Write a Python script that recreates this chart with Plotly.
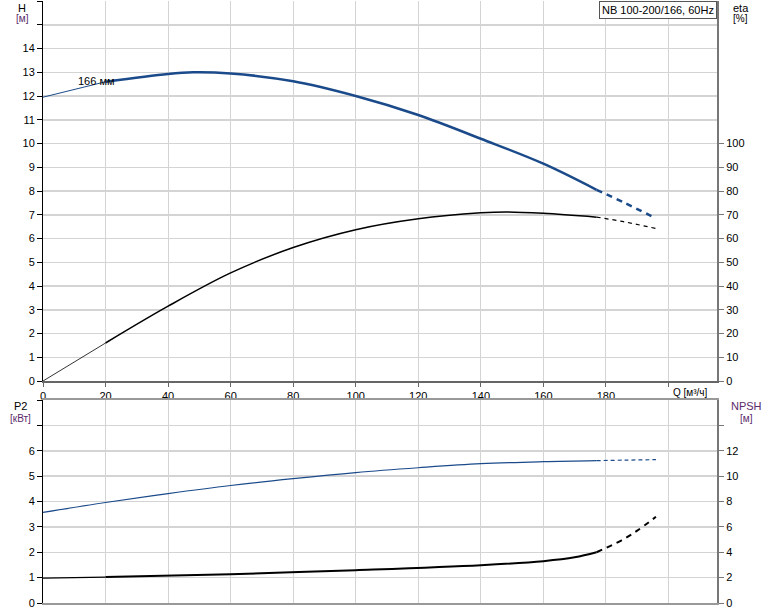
import plotly.graph_objects as go

# ---- data ----
q_head = [0, 20, 40, 48, 60, 80, 100, 120, 140, 160, 177]
h_head = [11.95, 12.6, 12.93, 13.0, 12.95, 12.62, 12.0, 11.2, 10.2, 9.15, 8.05]
q_head_ext = [177, 186, 196]
h_head_ext = [8.05, 7.5, 6.85]

q_eta = [0, 20, 40, 60, 80, 100, 120, 140, 148, 160, 177]
eta = [0, 16.0, 31.5, 45.5, 56.2, 63.7, 68.3, 70.8, 71.2, 70.6, 69.0]
q_eta_ext = [177, 186, 196]
eta_ext = [69.0, 67.0, 64.2]

q_p2 = [0, 20, 40, 60, 80, 100, 120, 140, 160, 177]
p2 = [3.57, 3.96, 4.31, 4.63, 4.9, 5.14, 5.33, 5.49, 5.57, 5.61]
q_p2_ext = [177, 186, 196]
p2_ext = [5.61, 5.63, 5.65]

q_npsh = [0, 20, 60, 100, 140, 160, 170, 177]
npsh = [1.96, 2.04, 2.27, 2.59, 2.98, 3.3, 3.6, 4.0]
q_npsh_ext = [177, 185, 190, 196]
npsh_ext = [4.0, 4.94, 5.7, 6.8]

x_ticks = list(range(0, 201, 20))
x_labels = [str(v) for v in range(0, 181, 20)] + [""]
h_ticks = list(range(0, 17))
h_labels = [str(v) for v in range(0, 15)] + ["", ""]
eta_ticks = list(range(0, 101, 10))
p2_ticks = list(range(0, 9))
p2_labels = [str(v) for v in range(0, 7)] + ["", ""]
npsh_ticks = list(range(0, 15, 2))
npsh_labels = [str(v) for v in range(0, 13, 2)] + [""]

BLUE = "#1a4a8a"
FONT = "Liberation Sans, Arial, sans-serif"

W, H = 774, 611
L, R, T, B = 43, 57, 1, 8
pw, ph = W - L - R, H - T - B


def px(x):
    return (x - L) / pw


def py(y):
    return 1 - (y - T) / ph


fig = go.Figure()

# head
fig.add_trace(go.Scatter(x=q_head[:2], y=h_head[:2], mode="lines",
                         line=dict(color=BLUE, width=1), xaxis="x", yaxis="y"))
fig.add_trace(go.Scatter(x=q_head[1:], y=h_head[1:], mode="lines",
                         line=dict(color=BLUE, width=2.5, shape="spline"), xaxis="x", yaxis="y"))
fig.add_trace(go.Scatter(x=q_head_ext, y=h_head_ext, mode="lines",
                         line=dict(color=BLUE, width=2.5, dash="6px,5px", shape="spline"), xaxis="x", yaxis="y"))
# eta
fig.add_trace(go.Scatter(x=q_eta[:2], y=eta[:2], mode="lines",
                         line=dict(color="black", width=0.8), xaxis="x", yaxis="y2"))
fig.add_trace(go.Scatter(x=q_eta[1:], y=eta[1:], mode="lines",
                         line=dict(color="black", width=1.5, shape="spline"), xaxis="x", yaxis="y2"))
fig.add_trace(go.Scatter(x=q_eta_ext, y=eta_ext, mode="lines",
                         line=dict(color="black", width=1.2, dash="4px,4px", shape="spline"), xaxis="x", yaxis="y2"))
# P2
fig.add_trace(go.Scatter(x=q_p2, y=p2, mode="lines",
                         line=dict(color=BLUE, width=1.2, shape="spline"), xaxis="x2", yaxis="y3"))
fig.add_trace(go.Scatter(x=q_p2_ext, y=p2_ext, mode="lines",
                         line=dict(color=BLUE, width=1.2, dash="4px,3px", shape="spline"), xaxis="x2", yaxis="y3"))
# NPSH
fig.add_trace(go.Scatter(x=q_npsh[:2], y=npsh[:2], mode="lines",
                         line=dict(color="black", width=1.2), xaxis="x2", yaxis="y4"))
fig.add_trace(go.Scatter(x=q_npsh[1:], y=npsh[1:], mode="lines",
                         line=dict(color="black", width=2, shape="spline"), xaxis="x2", yaxis="y4"))
fig.add_trace(go.Scatter(x=q_npsh_ext, y=npsh_ext, mode="lines",
                         line=dict(color="black", width=2, dash="6px,5px", shape="spline"), xaxis="x2", yaxis="y4"))

XMAX = (717 - 43.5) / 3.125
GRID = "#d4d4d4"
tickfont = dict(family=FONT, size=11, color="black")

top_dom = [py(381), py(1)]
bot_dom = [py(603), py(400)]

fig.update_layout(
    width=W, height=H, margin=dict(l=L, r=R, t=T, b=B, autoexpand=False),
    paper_bgcolor="white", plot_bgcolor="white", showlegend=False, hovermode=False,
    font=dict(family=FONT, size=11, color="black"),
    xaxis=dict(domain=[0, 1], range=[0, XMAX], tickvals=x_ticks, ticktext=x_labels,
               showgrid=True, gridcolor=GRID, gridwidth=1, zeroline=False, automargin=False,
               showline=True, linecolor="#666666", linewidth=1.5, ticks="outside",
               ticklen=4, tickcolor="#666666", tickfont=tickfont, anchor="y"),
    yaxis=dict(domain=top_dom, range=[0, 16], tickvals=h_ticks, ticktext=h_labels,
               showgrid=True, gridcolor=GRID, gridwidth=1.5, zeroline=False, automargin=False,
               showline=True, linecolor="black", linewidth=1, ticks="outside",
               ticklen=5, tickcolor="black", tickfont=tickfont, anchor="x"),
    yaxis2=dict(overlaying="y", side="right", range=[0, 160], tickvals=eta_ticks,
                showgrid=False, zeroline=False, showline=True, linecolor="#777777",
                linewidth=2, ticks="outside", ticklen=5, tickcolor="#777777", automargin=False,
                tickfont=tickfont, anchor="x"),
    xaxis2=dict(domain=[0, 1], range=[0, XMAX], tickvals=x_ticks, showticklabels=False,
                showgrid=True, gridcolor=GRID, gridwidth=1, zeroline=False, automargin=False,
                showline=True, linecolor="#999999", linewidth=2, mirror=True,
                ticks="", anchor="y3"),
    yaxis3=dict(domain=bot_dom, range=[0, 8], tickvals=p2_ticks, ticktext=p2_labels,
                showgrid=True, gridcolor=GRID, gridwidth=1.5, zeroline=False, automargin=False,
                showline=True, linecolor="black", linewidth=1, ticks="outside",
                ticklen=5, tickcolor="black", tickfont=tickfont, anchor="x2"),
    yaxis4=dict(overlaying="y3", side="right", range=[0, 16], tickvals=npsh_ticks,
                ticktext=npsh_labels, showgrid=False, zeroline=False, showline=True,
                linecolor="#777777", linewidth=2, ticks="outside", ticklen=5, automargin=False,
                tickcolor="#777777", tickfont=tickfont, anchor="x2"),
)

ann = []


def lab(text, x, y, color="black", size=11):
    ann.append(dict(text=text, x=px(x), y=py(y), xref="paper", yref="paper",
                    showarrow=False, xanchor="center", yanchor="middle",
                    font=dict(family=FONT, size=size, color=color)))


lab("H", 22, 8)
lab("[м]", 22, 19, color="#5a2a6a", size=10)
lab("eta", 741, 8)
lab("[%]", 741, 19, size=10)
lab("P2", 20, 406)
lab("[кВт]", 20, 418, color="#5a2a6a", size=10)
lab("NPSH", 746, 406, color="#5a2a6a")
lab("[м]", 746, 418, color="#5a2a6a", size=10)
lab("Q [м³/ч]", 690, 392, size=10)

ann.append(dict(text="166 мм", x=17, y=12.62, xref="x", yref="y", showarrow=False,
                xanchor="center", yanchor="middle", font=dict(family=FONT, size=11, color="black")))
ann.append(dict(text="NB 100-200/166, 60Hz", x=1, y=1, xref="paper", yref="paper",
                xanchor="right", yanchor="top", showarrow=False, bgcolor="white",
                bordercolor="#555555", borderwidth=1, borderpad=2,
                font=dict(family=FONT, size=11, color="black")))
fig.update_layout(annotations=ann)

fig.write_html("out.html", config={"displayModeBar": False, "staticPlot": True},
               post_script="document.body.style.margin='0';document.body.style.padding='0';")
